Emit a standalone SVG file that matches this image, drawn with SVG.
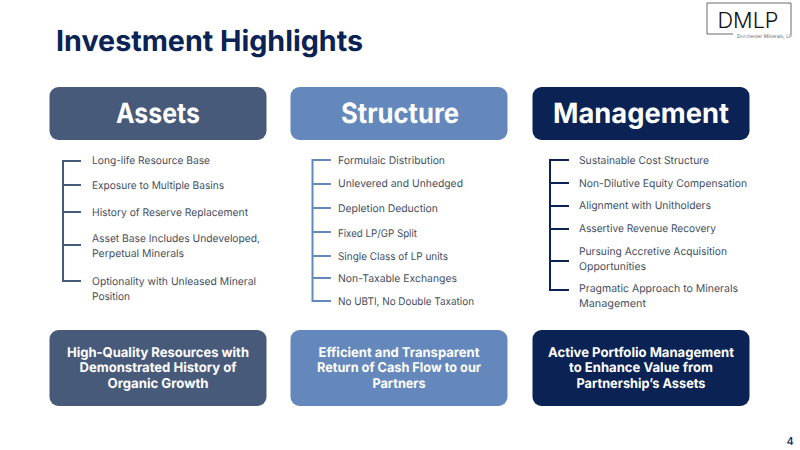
<svg xmlns="http://www.w3.org/2000/svg" width="800" height="450" viewBox="0 0 800 450">
<style>
text{font-family:"Inter","Liberation Sans",sans-serif;text-rendering:geometricPrecision}
.t{font-size:29px;font-weight:700;fill:#0a2354}
.h{font-size:28px;font-weight:700;fill:#fff;text-anchor:middle}
.f{font-size:13.5px;font-weight:700;fill:#fff;text-anchor:middle}
.i{font-size:10.6px;fill:#444e5e}
.a{fill:none;stroke:#475a7a;stroke-width:2}
.s{fill:none;stroke:#6488bb;stroke-width:2}
.m{fill:none;stroke:#0a2354;stroke-width:2}
</style>
<rect width="800" height="450" fill="#fff"/>
<text x="56" y="51" class="t" textLength="307" lengthAdjust="spacingAndGlyphs">Investment Highlights</text>
<g id="logo">
<path d="M733 34H707V3H791V34" fill="none" stroke="#444" stroke-width="0.8"/>
<text x="748" y="28" font-size="22" font-weight="300" fill="#111" text-anchor="middle" textLength="61" lengthAdjust="spacingAndGlyphs">DMLP</text>
<text x="737" y="38" font-size="5.2" fill="#666" textLength="55" lengthAdjust="spacingAndGlyphs">Dorchester Minerals, LP</text>
</g>
<g id="connectors">
<path class="a" d="M81 161H63V281H81M63 185H81M63 212H81M63 245H81"/>
<path class="s" d="M331 160H312.500V301H331M312.500 184H331M312.500 208H331M312.500 232H331M312.500 256H331M312.500 278H331"/>
<path class="m" d="M569 160H550V290H569M550 183H569M550 206H569M550 229H569M550 261H569"/>
</g>
<g id="assets-header"><rect x="49.500" y="87" width="217" height="53" rx="9" fill="#475a7a"/><text x="158" y="123" class="h" textLength="84" lengthAdjust="spacingAndGlyphs">Assets</text></g>
<g id="structure-header"><rect x="290.500" y="87" width="217" height="53" rx="9" fill="#6488bb"/><text x="400" y="123" class="h" textLength="118" lengthAdjust="spacingAndGlyphs">Structure</text></g>
<g id="management-header"><rect x="532.500" y="87" width="217" height="53" rx="9" fill="#0a2354"/><text x="641" y="123" class="h" textLength="176" lengthAdjust="spacingAndGlyphs">Management</text></g>
<g id="assets-items">
<text class="i" x="92" y="164" textLength="118" lengthAdjust="spacingAndGlyphs">Long-life Resource Base</text>
<text class="i" x="92" y="189" textLength="132" lengthAdjust="spacingAndGlyphs">Exposure to Multiple Basins</text>
<text class="i" x="92" y="216" textLength="156" lengthAdjust="spacingAndGlyphs">History of Reserve Replacement</text>
<text class="i" x="92" y="242" textLength="168" lengthAdjust="spacingAndGlyphs">Asset Base Includes Undeveloped,</text>
<text class="i" x="92" y="257" textLength="92" lengthAdjust="spacingAndGlyphs">Perpetual Minerals</text>
<text class="i" x="92" y="285" textLength="164" lengthAdjust="spacingAndGlyphs">Optionality with Unleased Mineral</text>
<text class="i" x="92" y="300" textLength="38" lengthAdjust="spacingAndGlyphs">Position</text>
</g>
<g id="structure-items">
<text class="i" x="338" y="164" textLength="107" lengthAdjust="spacingAndGlyphs">Formulaic Distribution</text>
<text class="i" x="338" y="187" textLength="125" lengthAdjust="spacingAndGlyphs">Unlevered and Unhedged</text>
<text class="i" x="338" y="212" textLength="100" lengthAdjust="spacingAndGlyphs">Depletion Deduction</text>
<text class="i" x="338" y="237" textLength="79" lengthAdjust="spacingAndGlyphs">Fixed LP/GP Split</text>
<text class="i" x="338" y="260" textLength="110" lengthAdjust="spacingAndGlyphs">Single Class of LP units</text>
<text class="i" x="338" y="282" textLength="119" lengthAdjust="spacingAndGlyphs">Non-Taxable Exchanges</text>
<text class="i" x="338" y="305" textLength="136" lengthAdjust="spacingAndGlyphs">No UBTI, No Double Taxation</text>
</g>
<g id="management-items">
<text class="i" x="579" y="164" textLength="130" lengthAdjust="spacingAndGlyphs">Sustainable Cost Structure</text>
<text class="i" x="579" y="187" textLength="168" lengthAdjust="spacingAndGlyphs">Non-Dilutive Equity Compensation</text>
<text class="i" x="579" y="209" textLength="132" lengthAdjust="spacingAndGlyphs">Alignment with Unitholders</text>
<text class="i" x="579" y="232" textLength="137" lengthAdjust="spacingAndGlyphs">Assertive Revenue Recovery</text>
<text class="i" x="579" y="255" textLength="148" lengthAdjust="spacingAndGlyphs">Pursuing Accretive Acquisition</text>
<text class="i" x="579" y="270" textLength="67" lengthAdjust="spacingAndGlyphs">Opportunities</text>
<text class="i" x="579" y="292" textLength="159" lengthAdjust="spacingAndGlyphs">Pragmatic Approach to Minerals</text>
<text class="i" x="579" y="307" textLength="67" lengthAdjust="spacingAndGlyphs">Management</text>
</g>
<g id="assets-footer"><rect x="49.500" y="330" width="217" height="76" rx="9" fill="#475a7a"/>
<text class="f" x="158" y="357" textLength="182" lengthAdjust="spacingAndGlyphs">High-Quality Resources with</text>
<text class="f" x="158" y="372" textLength="157" lengthAdjust="spacingAndGlyphs">Demonstrated History of</text>
<text class="f" x="158" y="388" textLength="101" lengthAdjust="spacingAndGlyphs">Organic Growth</text></g>
<g id="structure-footer"><rect x="290.500" y="330" width="217" height="76" rx="9" fill="#6488bb"/>
<text class="f" x="399" y="357" textLength="161" lengthAdjust="spacingAndGlyphs">Efficient and Transparent</text>
<text class="f" x="399" y="372" textLength="164" lengthAdjust="spacingAndGlyphs">Return of Cash Flow to our</text>
<text class="f" x="399" y="388" textLength="53" lengthAdjust="spacingAndGlyphs">Partners</text></g>
<g id="management-footer"><rect x="532.500" y="330" width="217" height="76" rx="9" fill="#0a2354"/>
<text class="f" x="641" y="357" textLength="186" lengthAdjust="spacingAndGlyphs">Active Portfolio Management</text>
<text class="f" x="641" y="372" textLength="144" lengthAdjust="spacingAndGlyphs">to Enhance Value from</text>
<text class="f" x="641" y="388" textLength="129" lengthAdjust="spacingAndGlyphs">Partnership’s Assets</text></g>
<text x="790" y="445" font-size="11" font-weight="500" fill="#0a2354" text-anchor="middle">4</text>
</svg>
